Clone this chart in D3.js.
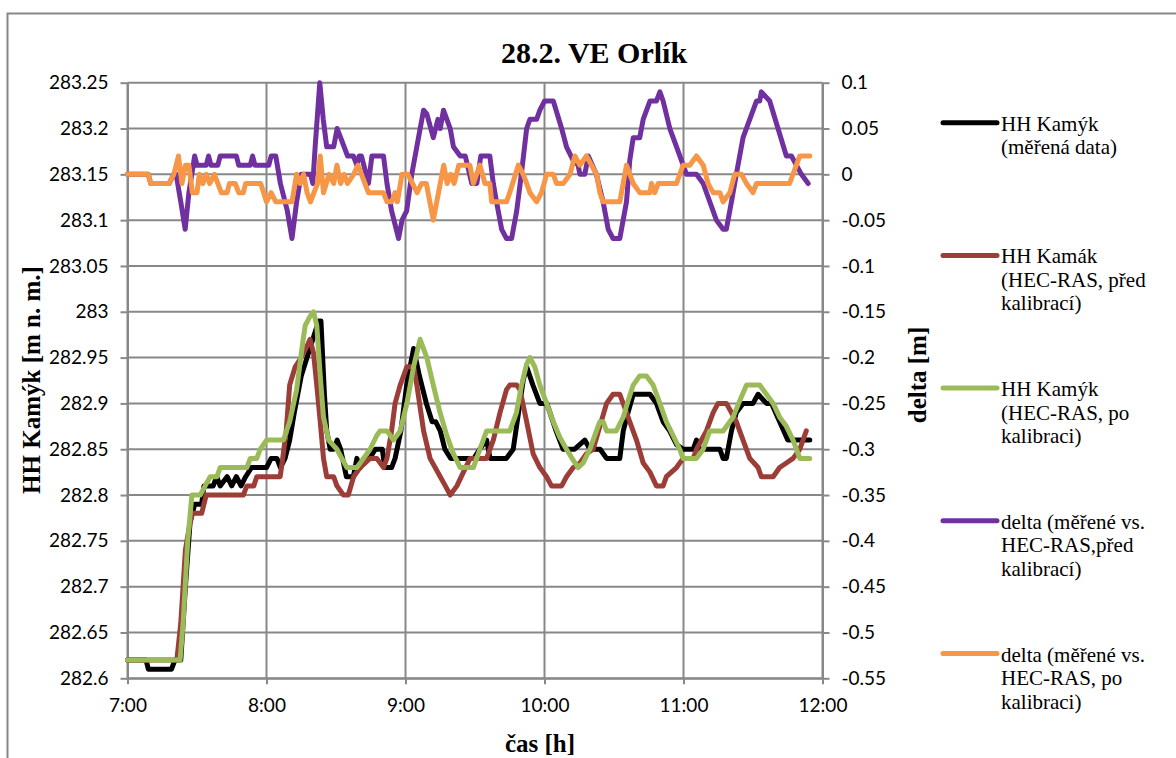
<!DOCTYPE html>
<html>
<head>
<meta charset="utf-8">
<script src="https://cdn.jsdelivr.net/npm/d3@7"></script>
<style>
body{margin:0;background:#fff}
.tick text{font-family:Lato,"Open Sans",sans-serif;font-size:19px;fill:#000}
</style>
</head>
<body>
<script>
// minutes after 7:00 , value
var measured = [[0,282.62],[8,282.62],[9,282.61],[19,282.61],[20.5,282.62],[23,282.62],[25,282.70],[27,282.77],[28,282.78],[29,282.79],[32,282.79],[33,282.81],[37,282.81],[38.5,282.82],[40,282.81],[43,282.82],[45,282.81],[47,282.82],[49,282.81],[51,282.82],[53.5,282.83],[60,282.83],[62,282.84],[64.5,282.84],[66,282.83],[68,282.84],[70,282.86],[72,282.89],[75,282.93],[77.5,282.95],[80,282.97],[82.5,282.99],[83.5,282.99],[85,282.91],[86,282.87],[87.5,282.85],[89,282.85],[90.5,282.86],[92,282.85],[94.5,282.82],[97.5,282.82],[99,282.84],[100.5,282.83],[102,282.84],[104.5,282.84],[107,282.85],[110,282.85],[111,282.83],[114,282.83],[115.5,282.84],[118,282.87],[120.5,282.92],[123.5,282.96],[126,282.93],[129,282.90],[131.5,282.88],[133,282.88],[135,282.87],[137,282.85],[139.5,282.84],[149.5,282.84],[152,282.85],[155,282.86],[156.5,282.84],[163.5,282.84],[166.5,282.85],[170.8,282.925],[172.3,282.94],[175,282.92],[178,282.90],[181,282.90],[185,282.87],[188,282.85],[193,282.85],[197.4,282.86],[199.6,282.85],[204,282.85],[206.8,282.84],[212.5,282.84],[214,282.87],[215.5,282.885],[218.3,282.91],[225.5,282.91],[228.3,282.90],[231.2,282.88],[234,282.87],[237,282.855],[239.8,282.85],[244.2,282.85],[245.6,282.86],[247,282.85],[255.7,282.85],[257.1,282.84],[258.5,282.84],[260.7,282.87],[262.8,282.89],[265.7,282.90],[270,282.90],[272.2,282.91],[275.8,282.90],[278,282.90],[281.5,282.88],[285,282.86],[294.5,282.86]]

var rasBefore = [[0,282.62],[21.3,282.62],[23,282.66],[25,282.74],[27,282.77],[28,282.78],[32,282.78],[33,282.79],[34,282.80],[50,282.80],[51.5,282.81],[54.5,282.81],[55.8,282.82],[65.9,282.82],[67,282.84],[68.5,282.87],[70,282.92],[72.4,282.94],[75,282.95],[77,282.96],[78.8,282.97],[80.3,282.955],[81.7,282.92],[83.2,282.88],[84.6,282.84],[86,282.82],[89,282.82],[90.4,282.81],[93.2,282.80],[95.3,282.80],[97.6,282.82],[100.4,282.83],[104.7,282.84],[107.6,282.84],[110.5,282.83],[112,282.84],[114,282.87],[115.5,282.90],[117.7,282.92],[120.6,282.94],[123.5,282.94],[124.9,282.92],[127.8,282.87],[130.6,282.84],[135,282.82],[137.2,282.81],[139.3,282.80],[142.2,282.81],[145,282.825],[147.9,282.84],[155,282.84],[157.9,282.86],[160.8,282.89],[163.6,282.915],[165,282.92],[168,282.92],[169.4,282.915],[172.3,282.88],[175.1,282.845],[178,282.83],[180.9,282.82],[183,282.81],[187.4,282.81],[189.5,282.82],[192.4,282.83],[195.3,282.835],[198.1,282.845],[201,282.85],[203.9,282.875],[206.8,282.90],[209.6,282.91],[212.5,282.91],[215.4,282.89],[216.8,282.88],[219.7,282.86],[222.6,282.835],[225.5,282.825],[228.3,282.81],[231.2,282.81],[232.6,282.82],[237,282.83],[239.8,282.84],[244.2,282.84],[245.6,282.85],[249.9,282.87],[252.8,282.89],[254.9,282.90],[258.5,282.90],[260.7,282.89],[262.8,282.88],[265.7,282.86],[268.6,282.84],[272.2,282.83],[273.6,282.82],[278.7,282.82],[281.5,282.83],[284.4,282.835],[287.3,282.84],[290.2,282.85],[293,282.87]]

var rasAfter = [[0,282.62],[22.7,282.62],[24,282.66],[26,282.75],[27.8,282.80],[31.4,282.80],[33.5,282.81],[35.7,282.82],[38.6,282.82],[40,282.83],[51.5,282.83],[53,282.84],[55.8,282.84],[57.3,282.85],[60.1,282.86],[67.3,282.86],[70,282.88],[73,282.915],[75.3,282.96],[76.7,282.985],[78.8,282.995],[80.3,283.0],[81.7,282.985],[83.2,282.93],[84.6,282.885],[86.8,282.86],[90.4,282.85],[92.5,282.84],[94.7,282.83],[99,282.83],[101.9,282.84],[104.7,282.85],[107.6,282.865],[109,282.87],[112,282.87],[114.8,282.86],[117.7,282.87],[120.6,282.90],[123.5,282.94],[126.3,282.97],[129.2,282.95],[132,282.92],[134.9,282.89],[137.8,282.865],[140.7,282.845],[143.6,282.83],[149.3,282.83],[152.1,282.85],[155,282.87],[165,282.87],[167.9,282.89],[170.1,282.92],[172.3,282.943],[173.7,282.95],[175.8,282.94],[178,282.92],[180.9,282.90],[183.8,282.88],[186.6,282.863],[189.5,282.85],[192.4,282.838],[194.5,282.83],[196.7,282.835],[199.6,282.85],[202.4,282.87],[203.9,282.88],[205.3,282.88],[206.8,282.87],[211,282.87],[214,282.885],[216.1,282.903],[218.3,282.92],[221.1,282.93],[224,282.93],[226.9,282.92],[229.8,282.90],[232.6,282.88],[235.5,282.865],[238.4,282.85],[239.8,282.84],[245.6,282.84],[248.5,282.85],[251.3,282.87],[257.1,282.87],[260,282.88],[261.4,282.885],[264.3,282.903],[267.2,282.92],[272.9,282.92],[275.8,282.91],[278.7,282.90],[281.5,282.885],[284.4,282.875],[287.3,282.86],[290.2,282.84],[294.5,282.84]]

var deltaBefore = [[0,0],[9,0],[10,-0.01],[18,-0.01],[20,0],[21,0],[23,-0.03],[24.9,-0.06],[26.5,-0.02],[29,0.02],[30,0.01],[34,0.01],[35,0.02],[36,0.01],[39,0.01],[40,0.02],[47,0.02],[48,0.01],[53,0.01],[54,0.02],[55,0.01],[61,0.01],[62,0.02],[64,0.02],[66,-0.01],[69,-0.04],[71,-0.07],[73,-0.03],[75,0],[79,0],[80,-0.01],[81,0.03],[83,0.1],[84.5,0.06],[86,0.03],[89,0.03],[90.5,0.05],[92,0.04],[95,0.02],[97.5,0.02],[99,0.01],[100,0.02],[101,0.02],[102,0.01],[104,-0.01],[105.5,0.02],[110.5,0.02],[112,-0.01],[114,-0.04],[117,-0.07],[118.5,-0.05],[120.5,-0.04],[122.7,0],[125.6,0.04],[127.8,0.07],[129.2,0.066],[132,0.04],[134,0.06],[135,0.05],[136.4,0.07],[139.3,0.05],[140.7,0.03],[143.6,0.02],[145.8,0.02],[148.6,-0.01],[150.8,-0.01],[152.5,0.02],[156.4,0.02],[157.9,-0.01],[159.3,-0.03],[161.5,-0.06],[163.6,-0.07],[165.8,-0.07],[168,-0.04],[170,0],[172.3,0.05],[173.7,0.06],[176.6,0.06],[178,0.07],[180,0.08],[183.8,0.08],[187.4,0.05],[189.5,0.03],[192.4,0.015],[194.5,0.01],[195.3,0],[197.4,0],[198.9,0.02],[202.4,0],[205.3,-0.03],[207.5,-0.06],[209.6,-0.07],[212.5,-0.07],[215.4,-0.03],[216.8,0.015],[218.3,0.04],[221.1,0.04],[222.6,0.06],[225.5,0.08],[228.3,0.08],[229.8,0.09],[231.2,0.08],[234.1,0.05],[237,0.03],[241.3,0],[245.6,0],[248.5,-0.01],[254.2,-0.05],[257.1,-0.06],[258.5,-0.06],[260.7,-0.03],[262.8,0],[265.7,0.04],[268.6,0.06],[271.5,0.08],[272.9,0.08],[273.6,0.09],[277.2,0.08],[280.8,0.05],[284.4,0.02],[286.6,0.02],[290.9,0],[293.8,-0.01]]

var deltaAfter = [[0,0],[9,0],[10,-0.01],[18,-0.01],[20,0],[22,0.02],[23.5,-0.01],[25,0.01],[26.5,0.01],[28,-0.02],[30,-0.02],[31,0],[32.5,-0.01],[34,0],[35.5,-0.01],[37.5,0],[39,-0.01],[40.5,-0.02],[43,-0.02],[44,-0.01],[46.5,-0.01],[48,-0.02],[50,-0.02],[51,-0.01],[57.5,-0.01],[60,-0.03],[62,-0.02],[64,-0.03],[71,-0.03],[73,0],[74.5,-0.01],[76,0],[77.5,-0.02],[79,-0.03],[80.5,-0.02],[82,-0.01],[83.2,0.02],[84.6,-0.02],[87,0],[89,-0.01],[90.4,0.01],[92,-0.01],[93.5,0],[95,-0.01],[97.6,0],[99.5,0.01],[101,0],[102.5,-0.01],[104,-0.02],[110.5,-0.02],[112,-0.03],[114,-0.03],[115.5,-0.02],[116.5,-0.03],[118.5,0],[121,0],[123,-0.01],[125,-0.02],[127,-0.01],[129,-0.01],[130.5,-0.03],[132,-0.05],[133.5,-0.03],[135,-0.01],[136.5,0.01],[138,-0.01],[139.5,0],[141,-0.01],[143,0.01],[147.8,0.01],[149.3,-0.01],[152.1,0.01],[154.3,-0.01],[156.4,-0.01],[157.2,-0.03],[163.6,-0.03],[165,-0.02],[168.7,0.01],[170.8,0],[172.3,-0.01],[173.7,-0.02],[176.6,-0.03],[178.7,-0.02],[180.9,0],[183.8,0],[185.2,-0.01],[188.1,-0.01],[191,0],[193.1,0.02],[195.3,0.01],[198.1,0.02],[200.3,0.01],[202.5,0],[203.9,-0.02],[205.3,-0.03],[212.5,-0.03],[215.4,0.01],[218.3,-0.01],[221.1,-0.02],[225.5,-0.02],[226.2,-0.01],[227.6,-0.02],[229.1,-0.01],[237,-0.01],[239.8,0.01],[242.7,0.01],[245.6,0.02],[248.5,0.01],[250.6,-0.01],[252.8,-0.02],[255.7,-0.02],[257.1,-0.03],[260,-0.02],[262.1,0],[265,0],[267.2,-0.01],[270,-0.02],[271.5,-0.01],[285.8,-0.01],[288.7,0.01],[290.2,0.02],[294.5,0.02]]

var hourTicks = [0,60,120,180,240,300]
var hourLabels = ["7:00","8:00","9:00","10:00","11:00","12:00"]
var leftTicks = [282.6,282.65,282.7,282.75,282.8,282.85,282.9,282.95,283,283.05,283.1,283.15,283.2,283.25]
var rightTicks = [-0.55,-0.5,-0.45,-0.4,-0.35,-0.3,-0.25,-0.2,-0.15,-0.1,-0.05,0,0.05,0.1]

var seriesNames = [
  ["HH Kamýk","(měřená data)"],
  ["HH Kamák","(HEC-RAS, před","kalibrací)"],
  ["HH Kamýk","(HEC-RAS, po","kalibraci)"],
  ["delta (měřené vs.","HEC-RAS,před","kalibrací)"],
  ["delta (měřené vs.","HEC-RAS, po","kalibraci)"]
]
var seriesColors = ["#000000","#9c3d37","#9bbb59","#7030a0","#f79646"]

var W = 1176, H = 758
var grey = "#888888"
var svg = d3.select("body").append("svg").attr("width",W).attr("height",H)

// chart frame
svg.append("rect").attr("x",7.5).attr("y",13.5).attr("width",1300).attr("height",900)
  .attr("fill","none").attr("stroke",grey).attr("stroke-width",2)

var x = d3.scaleLinear().domain([0,300]).range([127.5,822.5])
var yL = d3.scaleLinear().domain([282.6,283.25]).range([678.3,82.7])
var yR = d3.scaleLinear().domain([-0.55,0.1]).range([678.3,82.7])

function num(d){ return String(+d.toFixed(2)) }

// grid
svg.append("g").selectAll("line").data(leftTicks).enter().append("line")
  .attr("x1",x(0)).attr("x2",x(300)).attr("y1",function(d){return yL(d)}).attr("y2",function(d){return yL(d)})
  .attr("stroke",grey).attr("stroke-width",2)
svg.append("g").selectAll("line").data(hourTicks).enter().append("line")
  .attr("y1",yL(282.6)).attr("y2",yL(283.25)).attr("x1",function(d){return x(d)}).attr("x2",function(d){return x(d)})
  .attr("stroke",grey).attr("stroke-width",2)

var axL = svg.append("g").attr("transform","translate("+x(0)+",0)")
  .call(d3.axisLeft(yL).tickValues(leftTicks).tickFormat(num).tickSize(7).tickSizeOuter(0).tickPadding(12))
var axR = svg.append("g").attr("transform","translate("+x(300)+",0)")
  .call(d3.axisRight(yR).tickValues(rightTicks).tickFormat(num).tickSize(7).tickSizeOuter(0).tickPadding(12))
var axB = svg.append("g").attr("transform","translate(0,"+yL(282.6)+")")
  .call(d3.axisBottom(x).tickValues(hourTicks).tickFormat(function(d,i){return hourLabels[i]}).tickSize(6).tickSizeOuter(0).tickPadding(14))
svg.selectAll(".domain, .tick line").attr("stroke",grey).attr("stroke-width",2)

var lineL = d3.line().x(function(d){return x(d[0])}).y(function(d){return yL(d[1])})
var lineR = d3.line().x(function(d){return x(d[0])}).y(function(d){return yR(d[1])})

var series = [
  {data:measured, line:lineL},
  {data:rasBefore, line:lineL},
  {data:rasAfter, line:lineL},
  {data:deltaBefore, line:lineR},
  {data:deltaAfter, line:lineR}
]
series.forEach(function(s,i){
  svg.append("path").datum(s.data).attr("d",s.line)
    .attr("fill","none").attr("stroke",seriesColors[i]).attr("stroke-width",5)
    .attr("stroke-linejoin","round").attr("stroke-linecap","round")
})

// titles
var serif = "'Liberation Serif','Times New Roman',serif"
svg.append("text").text("28.2. VE Orlík").attr("x",594).attr("y",63)
  .attr("text-anchor","middle").attr("font-family",serif).attr("font-weight","bold").attr("font-size",30)
svg.append("text").text("čas [h]").attr("x",540).attr("y",752)
  .attr("text-anchor","middle").attr("font-family",serif).attr("font-weight","bold").attr("font-size",25)
svg.append("text").text("HH Kamýk [m n. m.]").attr("transform","translate(31,380) rotate(-90)")
  .attr("dy","0.35em").attr("text-anchor","middle").attr("font-family",serif).attr("font-weight","bold").attr("font-size",25)
svg.append("text").text("delta [m]").attr("transform","translate(917,375) rotate(-90)")
  .attr("dy","0.35em").attr("text-anchor","middle").attr("font-family",serif).attr("font-weight","bold").attr("font-size",25)

// legend
var leg = svg.append("g").selectAll("g").data(seriesNames).enter().append("g")
  .attr("transform",function(d,i){return "translate(943,"+(122.7+i*132.7)+")"})
leg.append("line").attr("x1",0).attr("x2",54).attr("stroke",function(d,i){return seriesColors[i]})
  .attr("stroke-width",5).attr("stroke-linecap","round")
leg.append("text").attr("font-family",serif).attr("font-size",21)
  .selectAll("tspan").data(function(d){return d}).enter().append("tspan")
  .attr("x",58).attr("y",function(d,i){return 8+i*23.5}).text(function(d){return d})
</script>
</body>
</html>
